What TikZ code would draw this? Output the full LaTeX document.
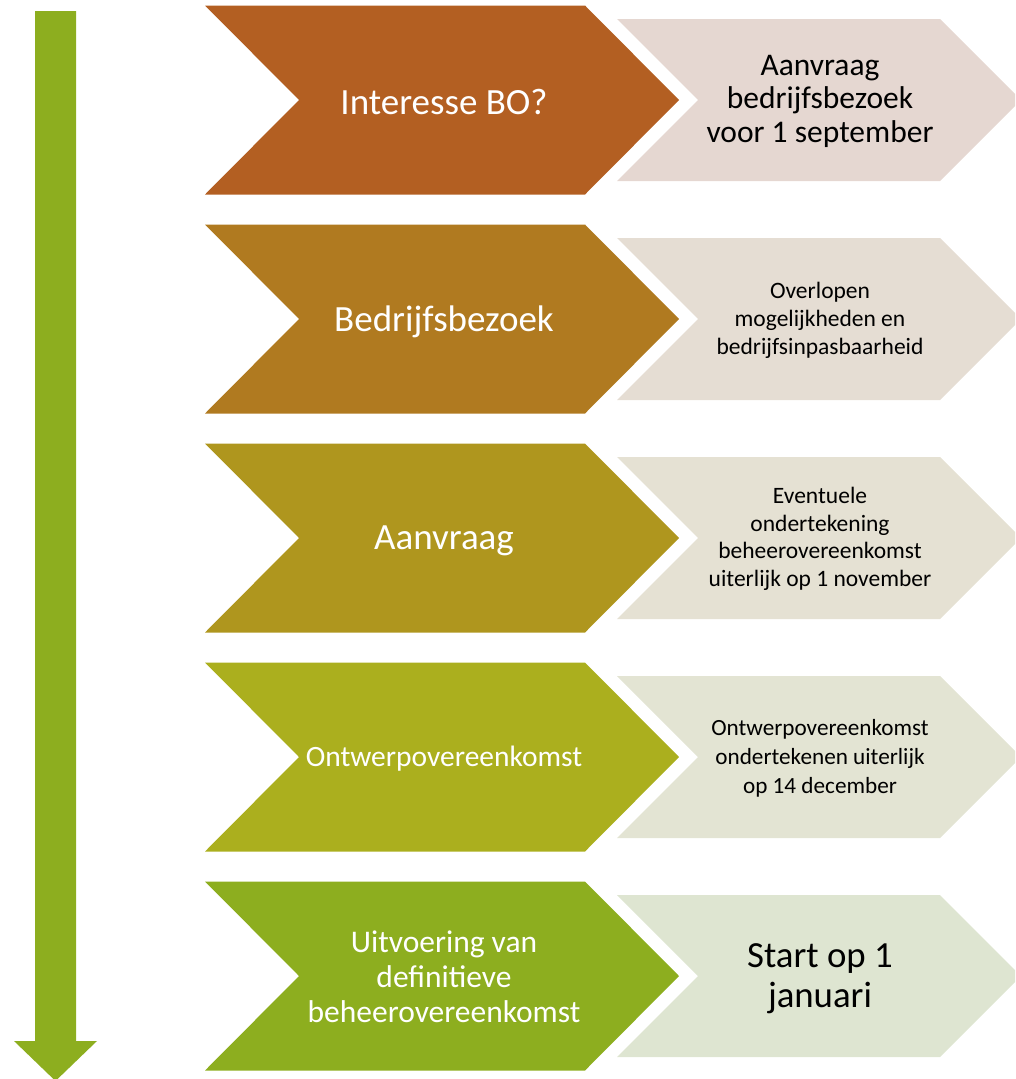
\documentclass[tikz,border=0pt]{standalone}
\usepackage{fontspec}
\setmainfont{Carlito}
\usepackage{xcolor}
\usepackage{tikz}
\usetikzlibrary{calc}

\definecolor{stepA}{HTML}{B35F22}
\definecolor{stepB}{HTML}{B07A20}
\definecolor{stepC}{HTML}{AF961E}
\definecolor{stepD}{HTML}{ABAF1E}
\definecolor{stepE}{HTML}{8DAE1F}
\definecolor{noteA}{HTML}{E5D7D1}
\definecolor{noteB}{HTML}{E5DDD3}
\definecolor{noteC}{HTML}{E5E1D3}
\definecolor{noteD}{HTML}{E3E4D3}
\definecolor{noteE}{HTML}{DEE5D1}

\begin{document}
\begin{tikzpicture}[
                x=1pt, y=-1pt,
                steptext/.style={text=white, align=center, inner sep=0pt, font=\fontsize{37}{42}\selectfont},
                notetext/.style={text=black, align=center, inner sep=0pt, font=\fontsize{23.5}{28}\selectfont}
            ]
                \clip (0,0) rectangle (1015,1079);

                % Time arrow
                \fill[stepE] (35,11) -- (76,11) -- (76,1041) -- (97,1041)
                    -- (55.5,1081) -- (14,1041) -- (35,1041) -- cycle;

                % Step chevrons
                \fill[stepA] (205,5.5) -- (585,5.5) -- (679,100) -- (585,194.5) -- (205,194.5) -- (299,100) -- cycle;
                \fill[stepB] (205,224.5) -- (585,224.5) -- (679,319) -- (585,413.5) -- (205,413.5) -- (299,319) -- cycle;
                \fill[stepC] (205,443.5) -- (585,443.5) -- (679,538) -- (585,632.5) -- (205,632.5) -- (299,538) -- cycle;
                \fill[stepD] (205,662.5) -- (585,662.5) -- (679,757) -- (585,851.5) -- (205,851.5) -- (299,757) -- cycle;
                \fill[stepE] (205,881.5) -- (585,881.5) -- (679,976) -- (585,1070.5) -- (205,1070.5) -- (299,976) -- cycle;

                % Note chevrons
                \fill[noteA] (617,19) -- (940,19) -- (1021,100) -- (940,181) -- (617,181) -- (698,100) -- cycle;
                \fill[noteB] (617,238) -- (940,238) -- (1021,319) -- (940,400) -- (617,400) -- (698,319) -- cycle;
                \fill[noteC] (617,457) -- (940,457) -- (1021,538) -- (940,619) -- (617,619) -- (698,538) -- cycle;
                \fill[noteD] (617,676) -- (940,676) -- (1021,757) -- (940,838) -- (617,838) -- (698,757) -- cycle;
                \fill[noteE] (617,895) -- (940,895) -- (1021,976) -- (940,1057) -- (617,1057) -- (698,976) -- cycle;

                % Steps
                \node[steptext] (interesse) at (444,102) {Interesse BO?};
                \node[steptext] (bezoek) at (444,322) {Bedrijfsbezoek};
                \node[steptext] (aanvraag) at (444,541) {Aanvraag};
                \node[steptext, font=\fontsize{29.5}{34}\selectfont] (ontwerp) at (444,759) {Ontwerpovereenkomst};
                \node[steptext, font=\fontsize{31.5}{35}\selectfont] (uitvoering) at (444,977) {Uitvoering van\\definitieve\\beheerovereenkomst};

                % Notes
                \node[notetext, font=\fontsize{31.5}{33.5}\selectfont] (septnote) at (820,101) {Aanvraag\\bedrijfsbezoek\\voor 1 september};
                \node[notetext] (bezoeknote) at (820,320) {Overlopen\\mogelijkheden en\\bedrijfsinpasbaarheid};
                \node[notetext, font=\fontsize{23.5}{27.5}\selectfont] (novnote) at (820,539) {Eventuele\\ondertekening\\beheerovereenkomst\\uiterlijk op 1 november};
                \node[notetext, font=\fontsize{23.2}{29}\selectfont] (decnote) at (820,758) {Ontwerpovereenkomst\\ondertekenen uiterlijk\\op 14 december};
                \node[notetext, font=\fontsize{36.8}{40}\selectfont] (startnote) at (820,979) {Start op 1\\januari};
            \end{tikzpicture}
\end{document}
